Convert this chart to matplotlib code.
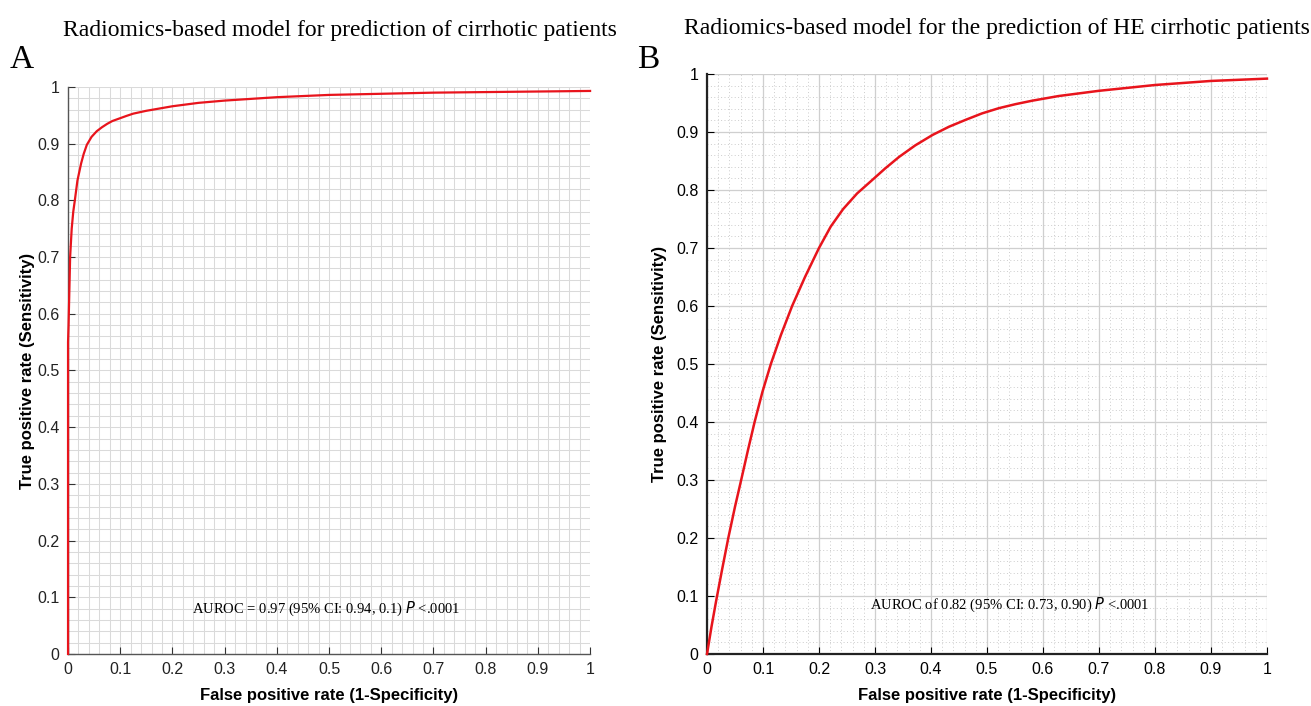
import numpy as np
import matplotlib.pyplot as plt
from matplotlib.ticker import MultipleLocator

# ROC curve (cirrhotic patients)
fpr_a = [0, 0, 0.001, 0.002, 0.004, 0.007, 0.010, 0.013, 0.018, 0.025, 0.030, 0.036,
         0.045, 0.055, 0.065, 0.075, 0.085, 0.100, 0.112, 0.125, 0.150, 0.175, 0.200,
         0.250, 0.300, 0.350, 0.400, 0.450, 0.500, 0.600, 0.700, 0.800, 0.900, 1.000]
tpr_a = [0, 0.55, 0.58, 0.62, 0.70, 0.75, 0.78, 0.80, 0.835, 0.865, 0.882, 0.898,
         0.912, 0.922, 0.929, 0.935, 0.940, 0.945, 0.949, 0.953, 0.958, 0.962, 0.966,
         0.972, 0.976, 0.979, 0.982, 0.984, 0.986, 0.988, 0.990, 0.991, 0.992, 0.993]

# ROC curve (HE cirrhotic patients)
fpr_b = [0, 0.008, 0.016, 0.027, 0.038, 0.050, 0.061, 0.073, 0.085, 0.099, 0.114,
         0.132, 0.152, 0.175, 0.200, 0.221, 0.243, 0.268, 0.296, 0.318, 0.343,
         0.372, 0.403, 0.432, 0.462, 0.491, 0.521, 0.551, 0.581, 0.628, 0.700,
         0.800, 0.900, 1.000]
tpr_b = [0, 0.047, 0.090, 0.146, 0.200, 0.254, 0.300, 0.351, 0.400, 0.452, 0.500,
         0.550, 0.600, 0.650, 0.700, 0.737, 0.767, 0.794, 0.818, 0.837, 0.857,
         0.877, 0.895, 0.909, 0.921, 0.932, 0.941, 0.948, 0.954, 0.962, 0.971,
         0.981, 0.988, 0.992]

ticks = np.round(np.arange(0, 1.01, 0.1), 1)
tick_labels = ['0', '0.1', '0.2', '0.3', '0.4', '0.5', '0.6', '0.7', '0.8', '0.9', '1']

titles = ['Radiomics-based model for prediction of cirrhotic patients',
          'Radiomics-based model for the prediction of HE cirrhotic patients']
notes = [('AUROC = 0.97 (95% CI: 0.94, 0.1) ', '<.0001'),
         ('AUROC of 0.82 (95% CI: 0.73, 0.90) ', '<.0001')]

sans = ['Liberation Sans Narrow', 'Liberation Sans', 'DejaVu Sans']
serif = ['Liberation Serif', 'DejaVu Serif']

fig = plt.figure(figsize=(13.11, 7.06), dpi=100)
ax_a = fig.add_axes([0.0519, 0.0737, 0.3982, 0.8031])
ax_b = fig.add_axes([0.5393, 0.0737, 0.4271, 0.8215])

for ax in (ax_a, ax_b):
    ax.set_xlim(0, 1)
    ax.set_ylim(0, 1)
    ax.set_xticks(ticks)
    ax.set_yticks(ticks)
    ax.set_xticklabels(tick_labels, family=sans, fontsize=11.5)
    ax.set_yticklabels(tick_labels, family=sans, fontsize=11.5)
    ax.xaxis.set_minor_locator(MultipleLocator(0.02))
    ax.yaxis.set_minor_locator(MultipleLocator(0.02))
    ax.tick_params(which='major', direction='in', length=5, pad=6)
    ax.tick_params(which='minor', length=0)
    ax.spines['top'].set_visible(False)
    ax.spines['right'].set_visible(False)
    ax.set_axisbelow(True)
    ax.set_xlabel('False positive rate (1-Specificity)', family=sans,
                  fontsize=12, fontweight='bold', labelpad=8)

ax_a.set_ylabel('True positive rate (Sensitivity)', family=sans,
                fontsize=12, fontweight='bold', labelpad=2)
ax_b.set_ylabel('True positive rate (Sensitivity)', family=sans,
                fontsize=12, fontweight='bold', labelpad=7)

# panel A: fine solid grid
ax_a.grid(which='both', color='#dadada', linewidth=0.75, linestyle='-')
for s in ('left', 'bottom'):
    ax_a.spines[s].set_color('#555555')
    ax_a.spines[s].set_linewidth(1.0)
ax_a.tick_params(colors='#333333', labelcolor='#222222')
ax_a.plot(fpr_a, tpr_a, color='#e8141c', linewidth=1.6, clip_on=False, zorder=5)

# panel B: solid major grid, dotted minor grid
ax_b.grid(which='major', color='#cfcfcf', linewidth=0.9, linestyle='-')
ax_b.grid(which='minor', color='#cccccc', linewidth=0.7, linestyle=(0, (1, 2.5)))
for s in ('left', 'bottom'):
    ax_b.spines[s].set_color('#222222')
    ax_b.spines[s].set_linewidth(1.6)
ax_b.plot(fpr_b, tpr_b, color='#e8141c', linewidth=1.8, clip_on=False, zorder=5)

ax_a.set_title(titles[0], family=serif, fontsize=17, pad=37, x=0.521)
ax_b.set_title(titles[1], family=serif, fontsize=17, pad=29, x=0.517)

fig.text(0.0168, 0.916, 'A', family=serif, fontsize=24, va='center', ha='center')
fig.text(0.4943, 0.916, 'B', family=serif, fontsize=24, va='center', ha='center')

for ax, (txt, pval), (x, y) in zip((ax_a, ax_b), notes, ((0.495, 0.08), (0.54, 0.085))):
    ax.text(x, y, txt + r'$\it{P}$ ' + pval, ha='center', va='center',
            family=serif, fontsize=10.5, zorder=6)

fig.savefig('out.png', dpi=100, facecolor='white')
